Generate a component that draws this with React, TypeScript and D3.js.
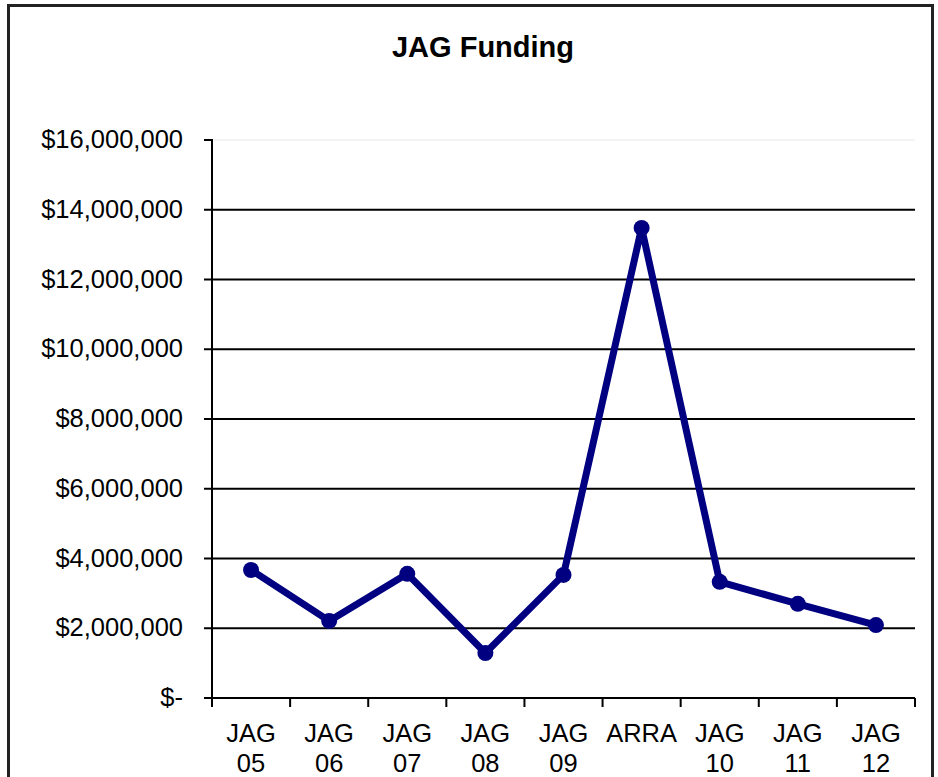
import * as d3 from "d3";

const categories = [
  ["JAG", "05"],
  ["JAG", "06"],
  ["JAG", "07"],
  ["JAG", "08"],
  ["JAG", "09"],
  ["ARRA"],
  ["JAG", "10"],
  ["JAG", "11"],
  ["JAG", "12"],
];

const funding = [
  3670000, 2210000, 3560000, 1290000, 3530000, 13480000, 3330000, 2700000,
  2090000,
];

const yTicks = [0, 2e6, 4e6, 6e6, 8e6, 10e6, 12e6, 14e6, 16e6];

const W = 938;
const H = 777;

const PLOT = { left: 212, right: 915, top: 140, bottom: 698 };

const FONT = "Liberation Sans, Arial, sans-serif";
const TICK_FONT = 25.5;

const LINE = { color: "#000080", width: 7, radius: 8 };

export default function App() {
  const keys = categories.map((c) => c.join(" "));
  const x = d3
    .scaleBand<string>()
    .domain(keys)
    .range([PLOT.left, PLOT.right])
    .padding(0);
  const y = d3
    .scaleLinear()
    .domain([0, 16e6])
    .range([PLOT.bottom, PLOT.top]);

  const fmt = (v: number) => (v === 0 ? "$-" : "$" + d3.format(",")(v));

  const cx = (i: number) => x(keys[i])! + x.bandwidth() / 2;

  const line = d3
    .line<number>()
    .x((_, i) => cx(i))
    .y((d) => y(d));

  const xEdges = keys.map((k) => x(k)!).concat([PLOT.right]);

  return (
    <svg
      width={W}
      height={H}
      style={{ position: "absolute", left: 0, top: 0, background: "#fff" }}
    >
      <rect
        x={8.5}
        y={5.5}
        width={924}
        height={790}
        fill="#fff"
        stroke="#222"
        strokeWidth={3}
      />
      <text
        x={483}
        y={57}
        textAnchor="middle"
        fontFamily={FONT}
        fontWeight="bold"
        fontSize={29}
        fill="#000"
      >
        JAG Funding
      </text>

      {/* gridlines */}
      {yTicks.map((t) => (
        <line
          key={t}
          x1={PLOT.left}
          x2={PLOT.right}
          y1={y(t)}
          y2={y(t)}
          stroke={t === 16e6 ? "#e8e8e8" : "#000"}
          strokeWidth={t === 16e6 ? 1 : 2}
        />
      ))}

      {/* y axis */}
      <line
        x1={PLOT.left}
        x2={PLOT.left}
        y1={PLOT.top - 1}
        y2={PLOT.bottom + 9}
        stroke="#000"
        strokeWidth={2}
      />
      {yTicks.map((t) => (
        <g key={t}>
          <line
            x1={PLOT.left - 8}
            x2={PLOT.left}
            y1={y(t)}
            y2={y(t)}
            stroke="#000"
            strokeWidth={2}
          />
          <text
            x={183}
            y={y(t) + 8}
            textAnchor="end"
            fontFamily={FONT}
            fontSize={TICK_FONT}
            fill="#000"
          >
            {fmt(t)}
          </text>
        </g>
      ))}

      {/* x axis */}
      <line
        x1={PLOT.left}
        x2={PLOT.right}
        y1={PLOT.bottom}
        y2={PLOT.bottom}
        stroke="#000"
        strokeWidth={2}
      />
      {xEdges.map((ex, i) => (
        <line
          key={i}
          x1={ex}
          x2={ex}
          y1={PLOT.bottom}
          y2={PLOT.bottom + 9}
          stroke="#000"
          strokeWidth={2}
        />
      ))}
      {categories.map((lines, i) => (
        <text
          key={i}
          x={cx(i)}
          y={742}
          textAnchor="middle"
          fontFamily={FONT}
          fontSize={TICK_FONT}
          fill="#000"
        >
          {lines.map((l, j) => (
            <tspan key={j} x={cx(i)} dy={j === 0 ? 0 : 30}>
              {l}
            </tspan>
          ))}
        </text>
      ))}

      {/* series */}
      <path
        d={line(funding) ?? undefined}
        fill="none"
        stroke={LINE.color}
        strokeWidth={LINE.width}
        strokeLinejoin="round"
      />
      {funding.map((v, i) => (
        <circle key={i} cx={cx(i)} cy={y(v)} r={LINE.radius} fill={LINE.color} />
      ))}
    </svg>
  );
}
